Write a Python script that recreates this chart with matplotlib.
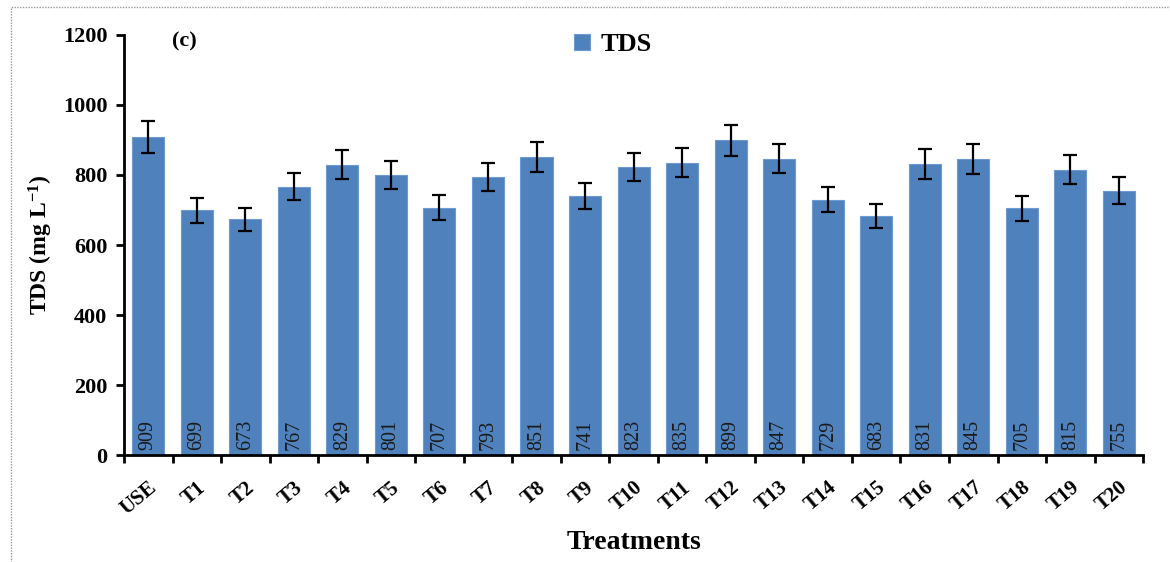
import numpy as np
import matplotlib.pyplot as plt
from matplotlib.patches import Rectangle

# data
treatments = ['USE'] + ['T%d' % i for i in range(1, 21)]
tds = [909, 699, 673, 767, 829, 801, 707, 793, 851, 741, 823,
       835, 899, 847, 729, 683, 831, 845, 705, 815, 755]
tds_err = [45, 35, 34, 38, 41, 40, 35, 40, 43, 37, 41,
           42, 45, 42, 36, 34, 42, 42, 35, 41, 38]

plt.rcParams['font.family'] = ['Liberation Serif', 'DejaVu Serif']
plt.rcParams['mathtext.fontset'] = 'custom'
plt.rcParams['mathtext.rm'] = 'Liberation Serif'
plt.rcParams['mathtext.bf'] = 'Liberation Serif:bold'
plt.rcParams['mathtext.default'] = 'bf'

fig = plt.figure(figsize=(11.7, 5.62), dpi=100)
ax = fig.add_axes([0.106, 0.19, 0.871, 0.748])

x = np.arange(len(treatments))
ax.bar(x, tds, width=0.66, color='#4F81BD', edgecolor='#6D9AD0', linewidth=0.8,
       label='TDS', zorder=2)
ax.errorbar(x, tds, yerr=tds_err, fmt='none', ecolor='black', elinewidth=1.6,
            capsize=5, capthick=1.6, zorder=3)

for xi, v in zip(x, tds):
    ax.text(xi, 14, str(v), rotation=90, ha='center', va='bottom', fontsize=14.5,
            color='#1a1a1a', zorder=4)

ax.set_xlim(-0.5, len(treatments) - 0.5)
ax.set_ylim(0, 1200)
ax.set_yticks(range(0, 1201, 200))
ax.set_xticks(x)
ax.set_xticklabels(treatments, rotation=40, ha='right', rotation_mode='anchor',
                   fontsize=15, fontweight='bold')
ax.set_xticks(np.arange(-0.5, len(treatments)), minor=True)
ax.tick_params(axis='x', which='major', length=0, pad=16)
ax.tick_params(axis='x', which='minor', length=6, width=2, direction='out')
ax.tick_params(axis='y', length=6, width=2, direction='out', labelsize=16, pad=6)
for lab in ax.get_yticklabels():
    lab.set_fontweight('bold')

for s in ['top', 'right']:
    ax.spines[s].set_visible(False)
for s in ['left', 'bottom']:
    ax.spines[s].set_linewidth(2)

ax.set_ylabel('TDS (mg L$^{-1}$)', fontsize=17, fontweight='bold', labelpad=6)
ax.set_xlabel('Treatments', fontsize=20, fontweight='bold', labelpad=8)

ax.text(0.047, 0.985, '(c)', transform=ax.transAxes, fontsize=16, fontweight='bold',
        ha='left', va='center')
leg = ax.legend(loc='upper center', bbox_to_anchor=(0.48, 1.06), frameon=False,
                prop={'weight': 'bold', 'size': 19}, handlelength=0.6,
                handleheight=0.6, handletextpad=0.4)

fig.patches.append(Rectangle((0.009, -0.01), 1.0, 0.997, transform=fig.transFigure,
                             fill=False, edgecolor='#999999', linewidth=1,
                             linestyle=(0, (1, 1))))

fig.savefig('out.png', dpi=100)
